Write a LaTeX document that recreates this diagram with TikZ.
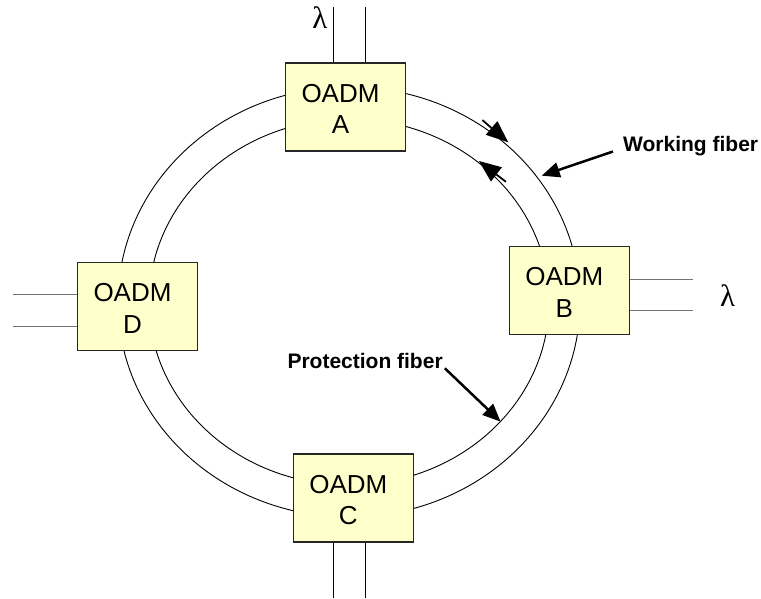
\documentclass[tikz,border=0pt]{standalone}
\usepackage{fontspec}
\setmainfont{Liberation Sans}
\newfontfamily\lamfont{Liberation Serif}
\usetikzlibrary{arrows.meta}
\definecolor{boxfill}{RGB}{255,255,204}
\newcommand\oadmlabel[1]{\begin{tabular}{@{}c@{\hspace{10pt}}}\rule{0pt}{31pt}OADM\\#1\end{tabular}}
\tikzset{
  pointer/.style={line width=2.5pt, arrows={-Triangle[length=18pt,width=15pt]}},
  dirtail/.style={line width=1.8pt},
  dirhead/.style={fill=black}
}
\begin{document}
\begin{tikzpicture}[x=1pt,y=-1pt,
  oadm/.style={draw=black!85, line width=1.2pt, fill=boxfill, minimum width=120pt, minimum height=88pt, inner sep=0pt, font=\fontsize{26}{31.5}\selectfont},
  fiber/.style={line width=0.9pt},
  port/.style={line width=1pt},
  greyport/.style={line width=1pt, draw=black!55},
  lam/.style={font=\lamfont\fontsize{31}{36}\selectfont, inner sep=0pt},
  lbl/.style={font=\bfseries\fontsize{21}{25}\selectfont, inner sep=0pt}
]
\useasboundingbox (0,0) rectangle (761,598);
% ring
\coordinate (O) at (349,302);
\draw[fiber] (O) ellipse [x radius=231pt, y radius=215pt];
\draw[fiber] (O) ellipse [x radius=200pt, y radius=183pt];
% direction marks on the ring (working: clockwise, protection: counter-clockwise)
\coordinate (w1) at (482.4,120.1);
\coordinate (wb) at (491.5,128.0);
\coordinate (w2) at (508.3,142.3);
\draw[dirtail] (w1) -- (wb);
\fill[dirhead] (w2) -- (485.7,134.8) -- (497.4,121.1) -- cycle;
\coordinate (p1) at (505.9,181.8);
\coordinate (pb) at (496.4,174.5);
\coordinate (p2) at (479,161);
\draw[dirtail] (p1) -- (pb);
\fill[dirhead] (p2) -- (501.9,167.3) -- (490.9,181.6) -- cycle;
% OADM boxes
\node[oadm] (A) at (345.5,107) {\oadmlabel{A}};
\node[oadm] (B) at (569.3,290.5) {\oadmlabel{B}};
\node[oadm] (C) at (353.3,498) {\oadmlabel{C}};
\node[oadm] (D) at (137.5,306.5) {\oadmlabel{D}};
% add/drop ports
\coordinate (a1) at (333.3,7);
\coordinate (a2) at (365.7,7);
\draw[port] (a1) -- (a1 |- A.north);
\draw[port] (a2) -- (a2 |- A.north);
\coordinate (c1) at (333.3,598);
\coordinate (c2) at (365.7,598);
\draw[port] (c1) -- (c1 |- C.south);
\draw[port] (c2) -- (c2 |- C.south);
\coordinate (b1) at (693,279);
\coordinate (b2) at (693,310.7);
\draw[greyport] (B.east |- b1) -- (b1);
\draw[greyport] (B.east |- b2) -- (b2);
\coordinate (d1) at (13,294.3);
\coordinate (d2) at (13,326.7);
\draw[greyport] (d1) -- (d1 -| D.west);
\draw[greyport] (d2) -- (d2 -| D.west);
% lambdas
\node[lam] (lamA) at (320,17.5) {λ};
\node[lam] (lamB) at (727.7,296) {λ};
% labels
\node[lbl, anchor=base west] (wf) at (623,151.5) {Working fiber};
\node[lbl, anchor=base west] (pf) at (287.3,368.3) {Protection fiber};
\coordinate (wtip) at (541.7,175.7);
\coordinate (ptip) at (500.7,421.7);
\draw[pointer] ([xshift=-10pt]wf.base west) -- (wtip);
\draw[pointer] ([xshift=2pt]pf.base east) -- (ptip);
\end{tikzpicture}
\end{document}
